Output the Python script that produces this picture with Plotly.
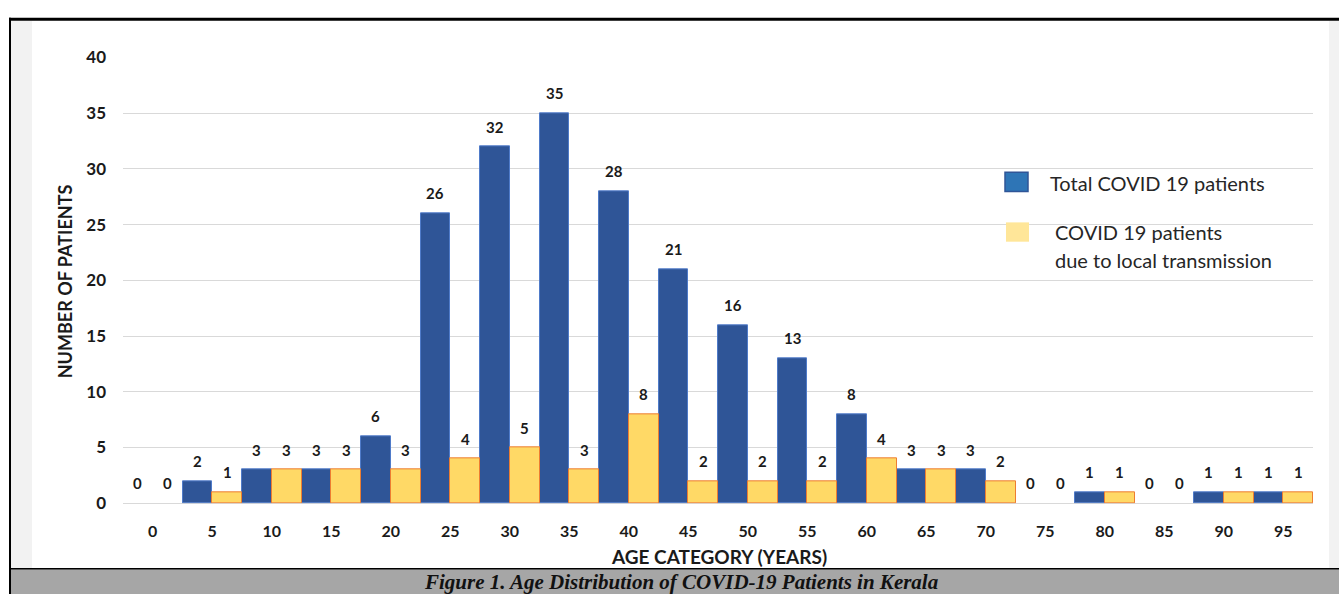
import plotly.graph_objects as go

# Age categories (years) and patient counts per category
age_groups = ["0", "5", "10", "15", "20", "25", "30", "35", "40", "45",
              "50", "55", "60", "65", "70", "75", "80", "85", "90", "95"]
total_patients = [0, 2, 3, 3, 6, 26, 32, 35, 28, 21, 16, 13, 8, 3, 3, 0, 1, 0, 1, 1]
local_patients = [0, 1, 3, 3, 3, 4, 5, 3, 8, 2, 2, 2, 4, 3, 2, 0, 1, 0, 1, 1]
y_ticks = [0, 5, 10, 15, 20, 25, 30, 35, 40]

W, H = 1339, 604


def fx(p):
    return p / W


def fy(p):
    return 1 - p / H


BLUE = "#2F5597"
YELLOW = "#FFD966"
SANS = "Lato, Open Sans, sans-serif"
LABEL_FONT = dict(family=SANS, size=15, color="#1a1a1a", weight="bold")

positions = list(range(len(age_groups)))


def outline(values, width=1):
    # no outline on empty bars
    return [width if v > 0 else 0 for v in values]


fig = go.Figure()
fig.add_trace(go.Bar(
    x=positions, y=total_patients, name="Total COVID 19 patients",
    marker=dict(color=BLUE, line=dict(color="#4F7BC9", width=outline(total_patients))),
))
fig.add_trace(go.Bar(
    x=positions, y=local_patients, name="COVID 19 patients due to local transmission",
    marker=dict(color=YELLOW, line=dict(color="#ED7D31", width=outline(local_patients))),
))

# value labels above each bar (bars sit at +/- a quarter category from the centre)
x0, x1 = 123, 1313
annotations = []
for i, (tv, lv) in enumerate(zip(total_patients, local_patients)):
    for val, off in ((tv, -0.25), (lv, 0.25)):
        annotations.append(dict(
            x=i + off, y=val, xref="x", yref="y", text=str(val), showarrow=False,
            yshift=20, yanchor="middle", xanchor="center", font=LABEL_FONT,
        ))

# axis titles
annotations.append(dict(
    x=fx(719), y=fy(565), xref="paper", yref="paper", text="AGE CATEGORY (YEARS)",
    showarrow=False, xanchor="center", yanchor="middle",
    font=dict(family=SANS, size=19, color="#1a1a1a", weight="bold"),
))
annotations.append(dict(
    x=fx(65), y=fy(280), xref="paper", yref="paper", text="NUMBER OF PATIENTS",
    showarrow=False, xanchor="center", yanchor="middle", textangle=-90,
    font=dict(family=SANS, size=18, color="#1a1a1a", weight="bold"),
))

# legend text
LEG_FONT = dict(family=SANS, size=20, color="#262626")
for txt, lx, ly in (("Total COVID 19 patients", 1048, 178),
                    ("COVID 19 patients", 1053, 229),
                    ("due to local transmission", 1053, 258)):
    annotations.append(dict(
        x=fx(lx), y=fy(ly), xref="paper", yref="paper", text=txt, showarrow=False,
        xanchor="left", yanchor="middle", font=LEG_FONT,
    ))

# caption
annotations.append(dict(
    x=fx(681), y=fy(592), xref="paper", yref="paper",
    text="Figure 1. Age Distribution of COVID-19 Patients in Kerala",
    showarrow=False, xanchor="center", yanchor="middle",
    font=dict(family="Liberation Serif, serif", size=21, color="#111111",
              weight="bold", style="italic"),
))


def rect(xa, ya, xb, yb, fill):
    return dict(type="rect", xref="paper", yref="paper",
                x0=fx(xa), x1=fx(xb), y0=fy(yb), y1=fy(ya),
                fillcolor=fill, line=dict(width=0), layer="below")


shapes = [
    rect(11, 10, 32, 577, "#f2f2f2"),
    rect(1329, 10, 1339, 577, "#f2f2f2"),
    rect(9, 7, 1339, 10, "#000000"),
    rect(9, 7, 11, 604, "#000000"),
    rect(11, 577, 1339, 579, "#000000"),
    rect(11, 579, 1339, 604, "#a6a6a6"),
]
# legend swatches
swatches = [
    dict(type="rect", xref="paper", yref="paper", x0=fx(1005), x1=fx(1028),
         y0=fy(187), y1=fy(167), fillcolor="#2E75B6", line=dict(color=BLUE, width=1.5)),
    dict(type="rect", xref="paper", yref="paper", x0=fx(1006), x1=fx(1029),
         y0=fy(239), y1=fy(219), fillcolor="#FFE699", line=dict(width=0)),
]

fig.update_layout(
    width=W, height=H, autosize=False,
    margin=dict(l=0, r=0, t=0, b=0, pad=0),
    paper_bgcolor="white",
    plot_bgcolor="rgba(0,0,0,0)",
    barmode="group", bargap=0, bargroupgap=0,
    showlegend=False,
    annotations=annotations,
    shapes=shapes + swatches,
    xaxis=dict(
        domain=[fx(x0), fx(x1)], range=[-0.5, len(age_groups) - 0.5],
        tickvals=positions, ticktext=age_groups,
        showgrid=False, showline=False, zeroline=False, ticks="", ticklabelstandoff=17,
        tickfont=dict(family=SANS, size=16, color="#1a1a1a", weight="bold"),
    ),
    yaxis=dict(
        domain=[fy(510), fy(48)], range=[0, 40], tickvals=y_ticks,
        showgrid=True, gridcolor="#d9d9d9", gridwidth=1,
        zeroline=True, zerolinecolor="#d9d9d9", zerolinewidth=1,
        showline=False, ticks="", ticklabelstandoff=16,
        tickfont=dict(family=SANS, size=17, color="#1a1a1a", weight="bold"),
    ),
)

fig.write_html(
    "out.html", config={"responsive": False},
    post_script=("document.documentElement.style.margin='0';"
                 "document.body.style.margin='0';"
                 "document.body.style.padding='0';"
                 "document.documentElement.style.overflow='hidden';"),
)
